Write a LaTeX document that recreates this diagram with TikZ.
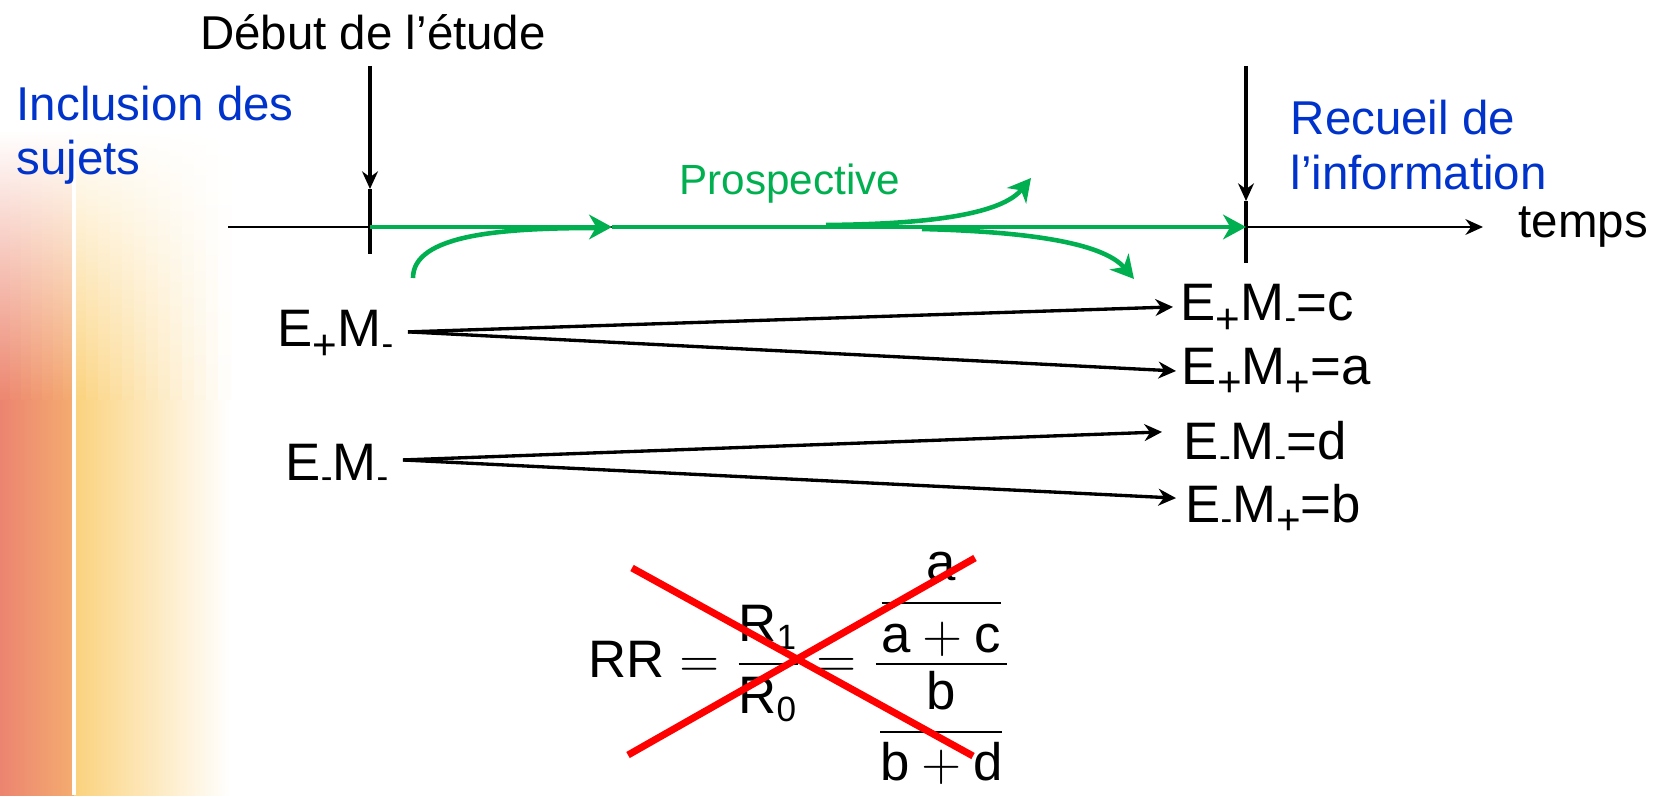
\documentclass[tikz,border=0pt]{standalone}
\usepackage{fix-cm}
\usepackage{amsmath}
\usepackage{fontspec}
\setmainfont{Liberation Sans}
\usepackage{tikz}
\usetikzlibrary{arrows.meta}

\definecolor{incblue}{HTML}{0033CC}
\definecolor{prosgreen}{HTML}{00B050}
\definecolor{bgred}{RGB}{236,132,112}
\definecolor{bgorange}{RGB}{244,172,112}
\definecolor{bgyellow}{RGB}{251,210,125}

\newcommand\subp{\raisebox{-3.5pt}{\fontsize{12}{12}\selectfont +}}
\newcommand\subm{\raisebox{-2.5pt}{\fontsize{10}{10}\selectfont -}}
\newcommand\sbs[1]{\mbox{\fontsize{10}{10}\selectfont #1}}
\def\Ep{E\subp}
\def\Em{E\subm}
\def\Mp{M\subp}
\def\Mm{M\subm}

\begin{document}
\begin{tikzpicture}[
    x=0.01cm, y=-0.01cm,
    every node/.style={inner sep=0pt},
    big/.style={font=\fontsize{13.5}{15.5}\selectfont},
    lab/.style={font=\fontsize{15}{18}\selectfont},
    axe/.style={line width=0.65pt},
    tick/.style={line width=1.1pt},
    darr/.style={-{Stealth[length=5pt,width=4.5pt]}, line width=1.1pt},
    arr/.style={-{Stealth[length=5pt,width=4.8pt]}, line width=0.95pt},
    garr/.style={-{Stealth[length=6.5pt,width=7pt,inset=2pt]}, line width=1.3pt, prosgreen},
    cross/.style={line width=2pt, red},
  ]

  % ── Background ───────────────────────────────────────────────────────────
  \fill[white] (0,0) rectangle (1661,795);
  \shade[left color=bgred, right color=bgorange] (0,399) rectangle (74,795);
  \shade[left color=bgyellow, right color=white] (74,399) rectangle (230,795);
  % fade in from the top, column by column
  \foreach \c in {0,...,6} {
    \pgfmathtruncatemacro\p{100*(\c+0.5)/7}
    \colorlet{colc}{bgorange!\p!bgred}
    \shade[top color=white, bottom color=colc] ({74*\c/7},130) rectangle ({74*(\c+1)/7+1},400);
  }
  \foreach \c in {0,...,12} {
    \pgfmathtruncatemacro\p{100*(\c+0.5)/13}
    \colorlet{colc}{white!\p!bgyellow}
    \shade[top color=white, bottom color=colc] ({74+12*\c},130) rectangle ({74+12*\c+13},400);
  }
  \draw[white, line width=1pt] (74,130) -- (74,795);
  \useasboundingbox (0,0) rectangle (1661,795);

  % ── Nodes ────────────────────────────────────────────────────────────────

  % Top labels
  \node[big] (debut) at (373,32) {Début de l’étude};
  \node[big, incblue, align=left, anchor=west] (incl) at (16,135) {Inclusion des\\sujets};
  \node[big, incblue, align=left, anchor=west] (recueil) at (1290,145) {Recueil de\\l’information};
  \node[big, anchor=west] (temps) at (1518,227) {temps};
  \node[font=\fontsize{12}{14}\selectfont, prosgreen] (prosp) at (790,184) {Prospective};

  % Time axis
  \coordinate (t0)    at (228,227);
  \coordinate (tend)  at (1483,227);
  \coordinate (dtop)  at (370,66);
  \coordinate (dtip)  at (370,189);
  \coordinate (dbot)  at (370,254);
  \coordinate (rtop)  at (1246,66);
  \coordinate (rtip)  at (1246,201);
  \coordinate (rbot)  at (1246,263);
  \coordinate (g0)    at (370,227);
  \coordinate (gmid)  at (612,227);
  \coordinate (gend)  at (1246,227);

  % Green bends
  \coordinate (loS)   at (413,278);
  \coordinate (loE)   at (596,228);
  \coordinate (upS)   at (826,225);
  \coordinate (upE)   at (1031,178);
  \coordinate (dnS)   at (922,229);
  \coordinate (dnE)   at (1134,279);

  % Groups (left)
  \node[lab, anchor=base east, inner xsep=4pt] (epmm) at (408,347) {\Ep\Mm};
  \node[lab, anchor=base east, inner xsep=4pt] (emmm) at (403,480) {\Em\Mm};

  % Outcomes (right)
  \node[lab, anchor=base west, inner xsep=2pt] (outc) at (1173,321) {\Ep\Mm=c};
  \node[lab, anchor=base west, inner xsep=1.5pt] (outa) at (1176,384) {\Ep\Mp=a};
  \node[lab, anchor=base west, inner xsep=6pt] (outd) at (1162,459) {\Em\Mm=d};
  \node[lab, anchor=base west, inner xsep=2.5pt] (outb) at (1176,522) {\Em\Mp=b};

  % Formula
  \node[lab, anchor=base west] (rr) at (588,677)
    {$\mbox{RR}=\dfrac{\mbox{R}_{\sbs{1}}}{\mbox{R}_{\sbs{0}}}=\dfrac{\dfrac{\mbox{a}}{\mbox{a}+\mbox{c}}}{\dfrac{\mbox{b}}{\mbox{b}+\mbox{d}}}$};
  \coordinate (xa) at (632,568);
  \coordinate (xb) at (973,756);
  \coordinate (xc) at (628,755);
  \coordinate (xd) at (975,558);

  % ── Edges ────────────────────────────────────────────────────────────────

  % axis and ticks
  \draw[axe, -{Stealth[length=5pt,width=4.5pt]}] (t0) -- (tend);
  \draw[tick] (dtip) -- (dbot);
  \draw[tick] (rtip) -- (rbot);
  \draw[darr] (dtop) -- (dtip);
  \draw[darr] (rtop) -- (rtip);

  % prospective follow-up
  \draw[garr] (g0) -- (gmid);
  \draw[garr] (gmid) -- (gend);
  \draw[garr, -] (loS) .. controls (413,235) and (500,228) .. (loE);
  \draw[garr] (upS) .. controls (950,224) and (1005,210) .. (upE);
  \draw[garr] (dnS) .. controls (1040,232) and (1105,245) .. (dnE);

  % groups -> outcomes
  \draw[arr] ([yshift=4.3pt]epmm.base east) -- ([yshift=4pt]outc.base west);
  \draw[arr] ([yshift=4.3pt]epmm.base east) -- ([yshift=3.7pt]outa.base west);
  \draw[arr] ([yshift=5.7pt]emmm.base east) -- ([yshift=7.7pt]outd.base west);
  \draw[arr] ([yshift=5.7pt]emmm.base east) -- ([yshift=6.8pt]outb.base west);

  % crossed-out ratio
  \draw[cross] (xa) -- (xb);
  \draw[cross] (xc) -- (xd);

\end{tikzpicture}
\end{document}
